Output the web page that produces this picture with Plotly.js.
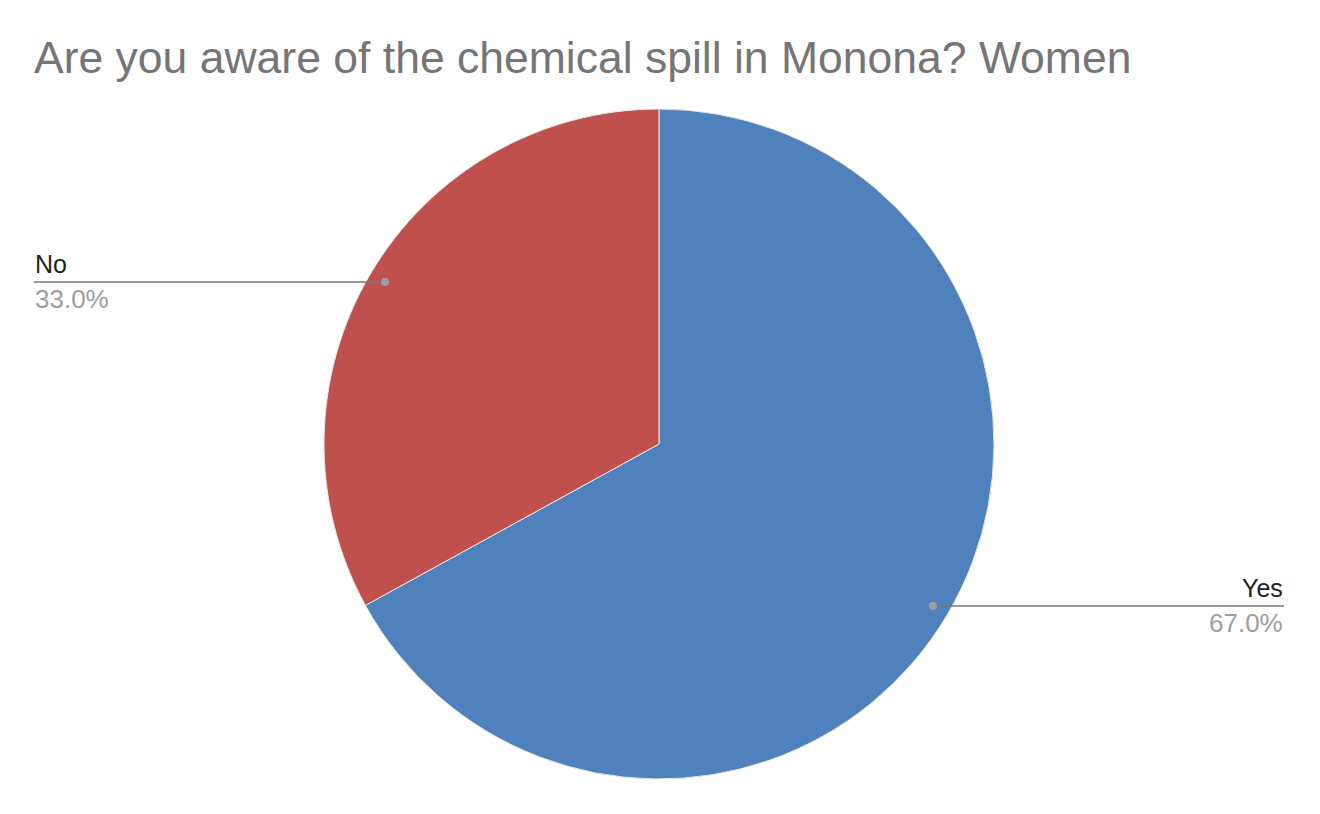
<!DOCTYPE html>
<html>
<head>
<meta charset="utf-8">
<script src="https://cdn.plot.ly/plotly-3.0.1.min.js"></script>
<style>html,body{margin:0;padding:0;background:#fff;}#chart{width:1320px;height:814px;}</style>
</head>
<body>
<div id="chart"></div>
<script>
const categories = ["Yes", "No"];
const values = [67.0, 33.0];
const colors = ["#4F81BD", "#C0504D"];
const titleText = "Are you aware of the chemical spill in Monona? Women";

const W = 1320, H = 814;
const cx = 659, cy = 444, R = 335;
const leftEdge = 34, rightEdge = 1284;

const domain = {
  x: [(cx - R) / W, (cx + R) / W],
  y: [(H - (cy + R)) / H, (H - (cy - R)) / H]
};

const total = values.reduce((a, b) => a + b, 0);
const shapes = [];
const annotations = [];
let cum = 0;
values.forEach((v, i) => {
  const mid = (cum + v / 2) / total * 2 * Math.PI; // clockwise from top
  cum += v;
  const px = cx + 0.95 * R * Math.sin(mid);
  const py = cy - 0.95 * R * Math.cos(mid);
  const right = px > cx;
  const ex = right ? rightEdge : leftEdge;
  const toX = x => x / W, toY = y => 1 - y / H;
  shapes.push({type: "line", xref: "paper", yref: "paper",
    x0: toX(px), y0: toY(py), x1: toX(ex), y1: toY(py),
    line: {color: "#777777", width: 1.5}});
  shapes.push({type: "circle", xref: "paper", yref: "paper",
    x0: toX(px - 4), x1: toX(px + 4), y0: toY(py - 4), y1: toY(py + 4),
    fillcolor: "#9e9e9e", line: {width: 0}});
  annotations.push({xref: "paper", yref: "paper", x: toX(ex), y: toY(py - 3),
    xanchor: right ? "right" : "left", yanchor: "bottom", showarrow: false,
    text: categories[i], font: {family: "Liberation Sans, Arial, sans-serif", size: 25, color: "#222222"},
    borderpad: 0});
  annotations.push({xref: "paper", yref: "paper", x: toX(ex), y: toY(py + 1),
    xanchor: right ? "right" : "left", yanchor: "top", showarrow: false,
    text: v.toFixed(1) + "%", font: {family: "Liberation Sans, Arial, sans-serif", size: 26, color: "#9e9e9e"},
    borderpad: 0});
});

const data = [{
  type: "pie",
  labels: categories,
  values: values,
  marker: {colors: colors, line: {color: "#e8e8e8", width: 1}},
  sort: false,
  direction: "clockwise",
  rotation: 0,
  textinfo: "none",
  hoverinfo: "label+percent",
  showlegend: false,
  domain: domain
}];

const layout = {
  width: W, height: H,
  margin: {l: 0, r: 0, t: 0, b: 0},
  paper_bgcolor: "#ffffff",
  title: {text: titleText, xref: "container", yref: "container", x: 34 / W, xanchor: "left",
    y: 1 - 57 / H, yanchor: "middle",
    font: {family: "Liberation Sans, Arial, sans-serif", size: 44.5, color: "#757575"}},
  shapes: shapes,
  annotations: annotations
};

Plotly.newPlot("chart", data, layout, {displayModeBar: false, staticPlot: true});
</script>
</body>
</html>
